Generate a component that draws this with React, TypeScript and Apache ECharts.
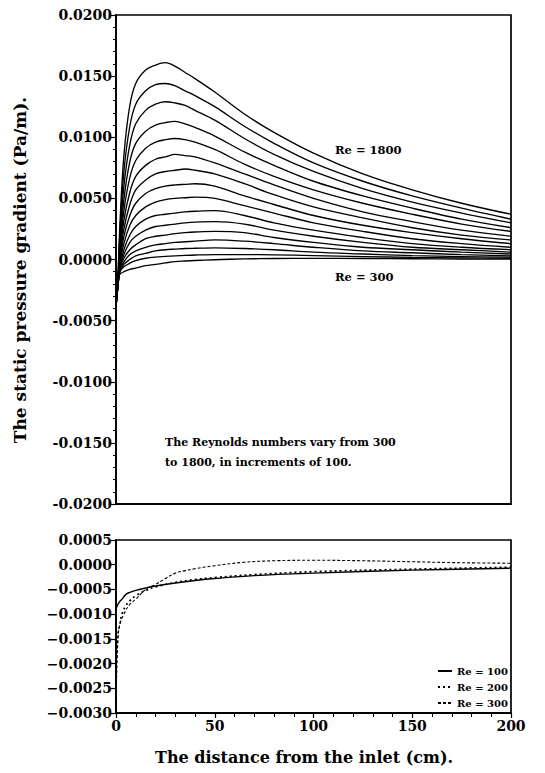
import React, { useEffect, useRef } from "react";
import * as echarts from "echarts";

// ---- Top panel data (Re = 1800 ... 300) ----
const X_TOP = [0, 1, 2, 4, 7, 10, 15, 20, 25, 30, 35, 40, 50, 65, 80, 100, 125, 150, 175, 200];
const RE_TOP = [1800, 1700, 1600, 1500, 1400, 1300, 1200, 1100, 1000, 900, 800, 700, 600, 500, 400, 300];

const re1800 = [-0.0040, -0.0012, 0.0030, 0.0085, 0.0126, 0.0144, 0.0155, 0.0159, 0.0161, 0.0158, 0.0153, 0.0148, 0.0137, 0.0119, 0.0104, 0.0087, 0.0070, 0.0057, 0.0046, 0.0037];
const re1700 = [-0.0040, -0.0014, 0.0022, 0.0072, 0.0109, 0.0127, 0.0138, 0.0143, 0.0144, 0.0142, 0.0138, 0.0134, 0.0125, 0.0109, 0.0095, 0.0079, 0.0064, 0.0052, 0.0042, 0.0033];
const re1600 = [-0.0039, -0.0016, 0.0016, 0.0060, 0.0094, 0.0111, 0.0122, 0.0127, 0.0129, 0.0128, 0.0126, 0.0122, 0.0114, 0.0099, 0.0086, 0.0072, 0.0058, 0.0047, 0.0038, 0.0030];
const re1500 = [-0.0039, -0.0018, 0.0011, 0.0049, 0.0080, 0.0095, 0.0105, 0.0110, 0.0112, 0.0113, 0.0111, 0.0108, 0.0101, 0.0088, 0.0077, 0.0064, 0.0052, 0.0042, 0.0033, 0.0026];
const re1400 = [-0.0038, -0.0019, 0.0007, 0.0040, 0.0067, 0.0081, 0.0091, 0.0096, 0.0098, 0.0099, 0.0098, 0.0096, 0.0090, 0.0078, 0.0068, 0.0057, 0.0046, 0.0037, 0.0029, 0.0023];
const re1300 = [-0.0038, -0.0020, 0.0004, 0.0032, 0.0055, 0.0068, 0.0077, 0.0082, 0.0084, 0.0086, 0.0085, 0.0084, 0.0079, 0.0070, 0.0061, 0.0050, 0.0039, 0.0031, 0.0024, 0.0019];
const re1200 = [-0.0037, -0.0021, 0.0001, 0.0025, 0.0045, 0.0057, 0.0065, 0.0070, 0.0072, 0.0073, 0.0074, 0.0073, 0.0070, 0.0062, 0.0053, 0.0043, 0.0034, 0.0026, 0.0020, 0.0016];
const re1100 = [-0.0037, -0.0022, -0.0002, 0.0019, 0.0036, 0.0046, 0.0054, 0.0058, 0.0060, 0.0061, 0.00615, 0.0062, 0.0060, 0.0052, 0.0045, 0.0036, 0.0028, 0.0022, 0.0017, 0.0013];
const re1000 = [-0.0036, -0.0022, -0.0004, 0.0013, 0.0028, 0.0036, 0.0043, 0.0047, 0.0049, 0.0050, 0.00505, 0.0051, 0.0050, 0.0044, 0.0038, 0.0030, 0.0023, 0.0017, 0.0013, 0.0010];
const re900 = [-0.0035, -0.0022, -0.0006, 0.0008, 0.0020, 0.0027, 0.0033, 0.0036, 0.0037, 0.0038, 0.0039, 0.00395, 0.0040, 0.0036, 0.0030, 0.0024, 0.0018, 0.0013, 0.0010, 0.0008];
const re800 = [-0.0035, -0.0021, -0.0007, 0.0004, 0.0014, 0.0019, 0.0024, 0.0027, 0.0028, 0.0029, 0.0030, 0.00306, 0.0031, 0.0029, 0.0024, 0.0019, 0.0014, 0.0010, 0.0008, 0.0006];
const re700 = [-0.0034, -0.0021, -0.0008, 0.0001, 0.0008, 0.0012, 0.0017, 0.0019, 0.0020, 0.00212, 0.0022, 0.00225, 0.0023, 0.0022, 0.0018, 0.0014, 0.0010, 0.0008, 0.0006, 0.00045];
const re600 = [-0.0033, -0.0020, -0.0009, -0.0002, 0.0004, 0.0007, 0.0010, 0.0012, 0.0013, 0.0014, 0.00145, 0.0015, 0.0016, 0.0015, 0.0013, 0.0010, 0.0007, 0.00055, 0.0004, 0.0003];
const re500 = [-0.0032, -0.0019, -0.0010, -0.0004, 0.0000, 0.0003, 0.0005, 0.0007, 0.0008, 0.00085, 0.0009, 0.00092, 0.00095, 0.0009, 0.0008, 0.0006, 0.00045, 0.00032, 0.00024, 0.00019];
const re400 = [-0.0030, -0.0017, -0.0010, -0.0006, -0.0003, -0.0001, 0.0001, 0.0002, 0.00025, 0.0003, 0.00034, 0.00037, 0.0004, 0.0004, 0.00038, 0.00032, 0.00024, 0.00017, 0.00013, 0.0001];
const re300 = [-0.0028, -0.0015, -0.0012, -0.0010, -0.0008, -0.0007, -0.0005, -0.0004, -0.00028, -0.00017, -0.00012, -0.00008, -0.00002, 0.00005, 0.00008, 0.00009, 0.00008, 0.00006, 0.00004, 0.00003];

const TOP_VALUES = [re1800, re1700, re1600, re1500, re1400, re1300, re1200, re1100, re1000, re900, re800, re700, re600, re500, re400, re300];

// ---- Bottom panel data (Re = 100, 200; Re = 300 uses X_TOP / re300) ----
const X_BOTTOM = [0, 1, 2, 3, 5, 7, 10, 15, 20, 30, 40, 50, 70, 100, 150, 200];
const re100 = [-0.0009, -0.0008, -0.00074, -0.0007, -0.0006, -0.00056, -0.00052, -0.00047, -0.00043, -0.00037, -0.00032, -0.00028, -0.00022, -0.00017, -0.00011, -0.00007];
const re200 = [-0.0021, -0.0014, -0.0012, -0.0010, -0.00083, -0.00073, -0.00063, -0.00052, -0.00045, -0.00036, -0.0003, -0.00026, -0.0002, -0.00014, -0.00009, -0.00005];

const LEGEND_NAMES = ["Re = 100", "Re = 200", "Re = 300"];
const X_TITLE = "The distance from the inlet (cm).";
const Y_TITLE = "The static pressure gradient (Pa/m).";
const NOTE_1 = "The Reynolds numbers vary from 300";
const NOTE_2 = "to 1800, in increments of 100.";

const FONT = '"DejaVu Serif", "Liberation Serif", serif';

const fmtTop = (v: number) => (Math.abs(v) < 1e-12 ? "0.0000" : v.toFixed(4));
const fmtBottom = (v: number) => (Math.abs(v) < 1e-12 ? "0.0000" : v.toFixed(4).replace("-", "\u2212"));

export default function App() {
  const ref = useRef<HTMLDivElement>(null);

  useEffect(() => {
    document.body.style.margin = "0";
    if (!ref.current) return;
    const chart = echarts.init(ref.current, null, { renderer: "svg" });

    const axisLine = { show: true, onZero: false, lineStyle: { color: "#000", width: 1.8 } };
    const labelStyle = { fontFamily: FONT, fontWeight: "bold" as const, fontSize: 14, color: "#000" };

    const topSeries = RE_TOP.map((re, k) => ({
      name: "Re " + re,
      type: "line",
      xAxisIndex: 0,
      yAxisIndex: 0,
      symbol: "none",
      smooth: 0.35,
      color: "#000",
      lineStyle: { color: "#000", width: 1.35 },
      data: X_TOP.map((x, i) => [x, TOP_VALUES[k][i]]),
      silent: true,
    }));

    const mk = (name: string, xs: number[], ys: number[], width: number, type: any) => ({
      name,
      type: "line",
      xAxisIndex: 1,
      yAxisIndex: 1,
      symbol: "none",
      smooth: 0.4,
      color: "#000",
      itemStyle: { color: "#000" },
      lineStyle: { color: "#000", width, type },
      data: xs.map((x, i) => [x, ys[i]]),
    });

    const bottomSeries = [
      mk(LEGEND_NAMES[0], X_BOTTOM, re100, 1.4, "solid"),
      mk(LEGEND_NAMES[1], X_BOTTOM, re200, 1.7, [2, 3]),
      mk(LEGEND_NAMES[2], X_TOP, re300, 1.1, [3, 2]),
    ];

    chart.setOption({
      animation: false,
      backgroundColor: "#fff",
      grid: [
        { left: 116, top: 15, width: 395, height: 489, show: true, borderColor: "#000", borderWidth: 1.7 },
        { left: 116, top: 540, width: 395, height: 173, show: true, borderColor: "#000", borderWidth: 1.7 },
      ],
      xAxis: [
        {
          type: "value",
          gridIndex: 0,
          min: 0,
          max: 200,
          interval: 50,
          axisLine,
          axisTick: { show: false },
          axisLabel: { show: false },
          splitLine: { show: false },
        },
        {
          type: "value",
          gridIndex: 1,
          min: 0,
          max: 200,
          interval: 50,
          axisLine,
          axisTick: { show: true, length: 5, lineStyle: { color: "#000", width: 1.2 } },
          minorTick: { show: true, splitNumber: 5, length: 4, lineStyle: { color: "#000", width: 1 } },
          axisLabel: { ...labelStyle, margin: 6 },
          splitLine: { show: false },
        },
      ],
      yAxis: [
        {
          type: "value",
          gridIndex: 0,
          min: -0.02,
          max: 0.02,
          interval: 0.005,
          axisLine,
          axisTick: { show: true, length: 5, lineStyle: { color: "#000", width: 1.2 } },
          minorTick: { show: true, splitNumber: 5, length: 3, lineStyle: { color: "#000", width: 1 } },
          axisLabel: { ...labelStyle, margin: 4, formatter: fmtTop },
          splitLine: { show: false },
        },
        {
          type: "value",
          gridIndex: 1,
          min: -0.003,
          max: 0.0005,
          interval: 0.0005,
          axisLine,
          axisTick: { show: true, length: 5, lineStyle: { color: "#000", width: 1.2 } },
          axisLabel: { ...labelStyle, margin: 4, formatter: fmtBottom },
          splitLine: { show: false },
        },
      ],
      legend: {
        data: LEGEND_NAMES,
        orient: "vertical",
        left: 432,
        top: 661,
        itemWidth: 14,
        itemHeight: 8,
        itemGap: 6,
        selectedMode: false,
        itemStyle: { opacity: 0 },
        textStyle: { fontFamily: FONT, fontWeight: "bold", fontSize: 10, color: "#000" },
      },
      graphic: [
        {
          type: "text",
          x: 20,
          y: 270,
          rotation: Math.PI / 2,
          style: { text: Y_TITLE, font: `bold 17px ${FONT}`, fill: "#000", align: "center", verticalAlign: "middle" },
        },
        {
          type: "text",
          x: 304,
          y: 757,
          style: { text: X_TITLE, font: `bold 16px ${FONT}`, fill: "#000", align: "center", verticalAlign: "middle" },
        },
        { type: "text", left: 335, top: 144, style: { text: "Re = 1800", font: `bold 11.5px ${FONT}`, fill: "#000" } },
        { type: "text", left: 335, top: 271, style: { text: "Re = 300", font: `bold 11.5px ${FONT}`, fill: "#000" } },
        { type: "text", left: 165, top: 437, style: { text: NOTE_1, font: `bold 11px ${FONT}`, fill: "#000" } },
        { type: "text", left: 165, top: 457, style: { text: NOTE_2, font: `bold 11px ${FONT}`, fill: "#000" } },
      ],
      series: [...topSeries, ...bottomSeries],
    });

    return () => chart.dispose();
  }, []);

  return <div ref={ref} style={{ width: 545, height: 773 }} />;
}
